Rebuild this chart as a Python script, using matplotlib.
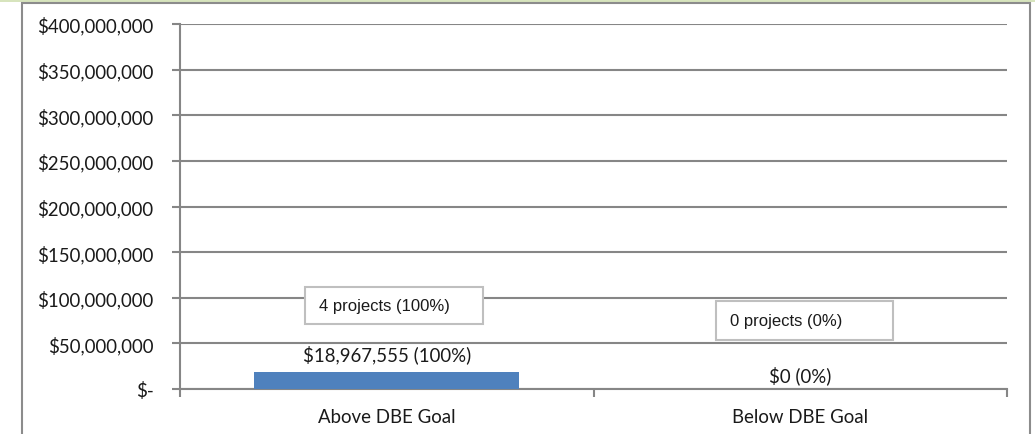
import matplotlib
matplotlib.use("Agg")
import matplotlib.pyplot as plt
from matplotlib.patches import Rectangle
from matplotlib.ticker import FuncFormatter

categories = ["Above DBE Goal", "Below DBE Goal"]
values = [18967555, 0]
value_labels = ["$18,967,555 (100%)", "$0 (0%)"]
project_labels = ["4 projects (100%)", "0 projects (0%)"]
yticks = [0, 50e6, 100e6, 150e6, 200e6, 250e6, 300e6, 350e6, 400e6]

W, H = 1035, 435
fig = plt.figure(figsize=(W / 100, H / 100), dpi=100)
fig.patch.set_facecolor("white")

# top green strip and outer frame
fig.add_artist(Rectangle((0, 1 - 3 / H), 1, 3 / H, transform=fig.transFigure,
                         facecolor="#d7e4bd", edgecolor="none"))
fig.add_artist(Rectangle((22 / W, -0.05), (1030 - 22) / W, 1 - 3.5 / H + 0.05,
                         transform=fig.transFigure, facecolor="none",
                         edgecolor="#8c8c8c", linewidth=1.5))

ax = fig.add_axes([180 / W, 45 / H, (1007 - 180) / W, (390 - 25) / H])
gc = "#868686"
x = list(range(len(categories)))
ax.bar(x, values, width=0.64, color="#4f81bd", zorder=3)
ax.set_xlim(-0.5, len(categories) - 0.5)
ax.set_ylim(0, 400e6)
ax.set_yticks(yticks)
ax.yaxis.set_major_formatter(FuncFormatter(lambda v, p: "$-" if v == 0 else f"${v:,.0f}"))
ax.set_xticks(x)
ax.set_xticklabels(categories)
ax.set_xticks([-0.5, 0.5, 1.5], minor=True)
ax.tick_params(axis="x", which="major", length=0, pad=14)
ax.tick_params(axis="x", which="minor", length=6, width=1.5, color=gc)
ax.tick_params(axis="y", length=6, width=1.5, color=gc, pad=13)
for lab in ax.get_xticklabels() + ax.get_yticklabels():
    lab.set_fontfamily("Lato")
    lab.set_fontsize(13.4)
    lab.set_color("#1a1a1a")
ax.grid(axis="y", color=gc, linewidth=1.5, zorder=0)
for s in ["top", "right"]:
    ax.spines[s].set_visible(False)
for s in ["left", "bottom"]:
    ax.spines[s].set_color(gc)
    ax.spines[s].set_linewidth(1.5)

# value labels
offsets = [6, 3.5]
for xi, v, lab, off in zip(x, values, value_labels, offsets):
    ax.annotate(lab, (xi, v), xytext=(0, off), textcoords="offset points",
                ha="center", va="bottom", fontfamily="Lato", fontsize=13.4,
                color="#1a1a1a", zorder=5)

# project boxes (axes-relative placement)
boxes = [(-0.198, 71.2e6, 0.431, 40.6e6), (0.796, 53.7e6, 0.428, 42.7e6)]
for (bx, by, bw, bh), lab in zip(boxes, project_labels):
    ax.add_patch(Rectangle((bx, by), bw, bh, facecolor="white",
                           edgecolor="#bfbfbf", linewidth=1.5, zorder=4))
    ax.text(bx + 0.034, by + bh / 2, lab, ha="left", va="center",
            fontfamily="Liberation Sans", fontsize=12, color="#1a1a1a", zorder=5)

fig.savefig("out.png", dpi=100)
